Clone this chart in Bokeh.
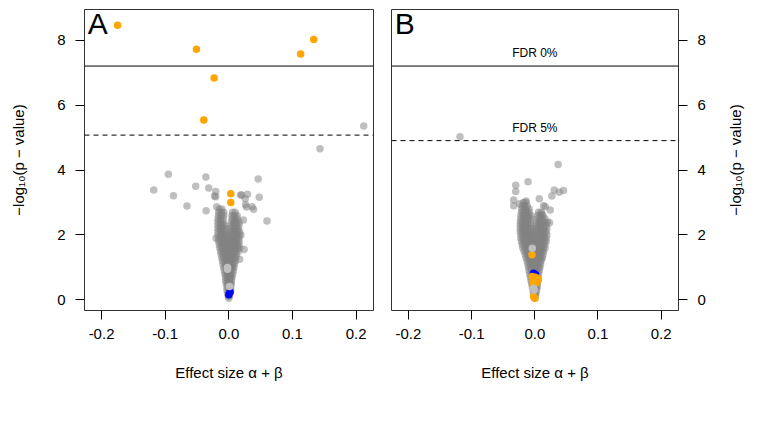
import math
from bokeh.plotting import figure
from bokeh.layouts import row
from bokeh.models import Range1d, Span, Label, FixedTicker, CustomJSTickFormatter
from bokeh.embed import file_html
from bokeh.resources import INLINE

FONT = "Liberation Sans"

# ---------------- data ----------------
x_ticks = [-0.2, -0.1, 0.0, 0.1, 0.2]
y_ticks = [0, 2, 4, 6, 8]
fdr0_a = 7.21
fdr5_a = 5.08
fdr0_b = 7.21
fdr5_b = 4.91

# Panel A - dense core of the volcano (rows of -log10 p, effect sizes)
a_core_levels = [0.05, 0.12, 0.2, 0.3, 0.4, 0.5, 0.6, 0.7, 0.8, 0.9, 1.0, 1.1, 1.2, 1.3, 1.4,
                 1.5, 1.6, 1.7, 1.8, 1.9, 2.0, 2.1, 2.2, 2.3, 2.4, 2.5, 2.6, 2.7, 2.8]
a_core_xs = [
    [0.000],
    [-0.001, 0.001],
    [-0.002, 0.000, 0.002],
    [-0.003, 0.000, 0.003],
    [-0.003, -0.001, 0.001, 0.003],
    [-0.004, -0.001, 0.002, 0.004],
    [-0.005, -0.002, 0.001, 0.004],
    [-0.005, -0.002, 0.001, 0.003, 0.005],
    [-0.006, -0.003, 0.000, 0.003, 0.006],
    [-0.007, -0.003, 0.000, 0.003, 0.007],
    [-0.008, -0.004, -0.001, 0.002, 0.005, 0.008],
    [-0.009, -0.005, -0.001, 0.003, 0.006, 0.009],
    [-0.010, -0.006, -0.002, 0.002, 0.006, 0.010],
    [-0.011, -0.007, -0.003, 0.001, 0.005, 0.009, 0.011],
    [-0.012, -0.008, -0.004, 0.000, 0.004, 0.008, 0.012],
    [-0.013, -0.009, -0.005, -0.001, 0.003, 0.007, 0.011, 0.015],
    [-0.014, -0.010, -0.006, -0.002, 0.002, 0.006, 0.010, 0.014, 0.017],
    [-0.015, -0.011, -0.007, -0.003, 0.001, 0.005, 0.009, 0.013, 0.016],
    [-0.016, -0.012, -0.008, -0.004, 0.000, 0.004, 0.008, 0.012, 0.016],
    [-0.016, -0.012, -0.008, -0.004, 0.001, 0.005, 0.009, 0.013, 0.016],
    [-0.017, -0.013, -0.009, -0.005, -0.001, 0.004, 0.008, 0.012, 0.016],
    [-0.017, -0.013, -0.009, -0.005, 0.002, 0.006, 0.010, 0.014, 0.017],
    [-0.017, -0.013, -0.009, -0.005, 0.003, 0.007, 0.011, 0.015],
    [-0.017, -0.013, -0.009, -0.006, 0.004, 0.008, 0.012, 0.016],
    [-0.017, -0.013, -0.009, 0.004, 0.008, 0.012, 0.016],
    [-0.017, -0.013, -0.009, 0.005, 0.009, 0.013],
    [-0.016, -0.012, -0.008, 0.005, 0.009, 0.013],
    [-0.016, -0.012, -0.008, 0.006, 0.010],
    [-0.015, -0.011],
]
# Panel A - scattered grey points
a_grey_x = [0.2121, 0.1433, -0.095, -0.118, -0.087, -0.052, -0.036, -0.0315, -0.0205, -0.0205,
            -0.0657, -0.0357, 0.0462, 0.0478, 0.0294, 0.020, 0.0257, 0.0279, 0.0389, 0.0600,
            -0.0225, 0.0184, 0.0263, 0.0368, -0.019, 0.0227, 0.024, 0.017, -0.020, 0.019]
a_grey_y = [5.36, 4.66, 3.87, 3.39, 3.21, 3.50, 3.79, 3.45, 3.34, 3.18,
            2.89, 2.75, 3.73, 3.16, 3.26, 3.23, 3.12, 2.86, 2.79, 2.43,
            3.20, 3.23, 2.93, 2.87, 2.87, 2.46, 1.55, 1.25, 1.90, 2.00]
a_light_x = [-0.002, -0.002, 0.001]
a_light_y = [1.00, 0.94, 0.41]
a_blue_x = [0.000, 0.002]
a_blue_y = [0.16, 0.24]
a_orange_x = [-0.1748, -0.0509, 0.1129, 0.1334, -0.0231, -0.0394, 0.0031, 0.0031]
a_orange_y = [8.47, 7.73, 7.58, 8.03, 6.84, 5.545, 3.27, 3.00]

# Panel B - dense core
b_core_levels = [0.05, 0.12, 0.2, 0.3, 0.4, 0.5, 0.6, 0.7, 0.8, 0.9, 1.0, 1.1, 1.2, 1.3, 1.4,
                 1.5, 1.6, 1.7, 1.8, 1.9, 2.0, 2.1, 2.2, 2.3, 2.4, 2.5, 2.6, 2.7, 2.8, 2.9, 3.0]
b_core_xs = [
    [0.000],
    [-0.001, 0.001],
    [-0.002, 0.000, 0.002],
    [-0.003, 0.000, 0.003],
    [-0.004, -0.001, 0.002, 0.004],
    [-0.005, -0.002, 0.001, 0.004],
    [-0.006, -0.003, 0.000, 0.003, 0.005],
    [-0.007, -0.004, -0.001, 0.002, 0.005],
    [-0.008, -0.004, -0.001, 0.003, 0.006],
    [-0.009, -0.005, -0.001, 0.003, 0.007],
    [-0.010, -0.006, -0.002, 0.002, 0.006, 0.008],
    [-0.011, -0.007, -0.003, 0.001, 0.005, 0.009],
    [-0.012, -0.008, -0.004, 0.000, 0.004, 0.008, 0.010],
    [-0.014, -0.010, -0.006, -0.002, 0.002, 0.006, 0.010, 0.012],
    [-0.015, -0.011, -0.007, -0.003, 0.001, 0.005, 0.009, 0.013],
    [-0.017, -0.013, -0.009, -0.005, -0.001, 0.003, 0.007, 0.011, 0.014],
    [-0.019, -0.015, -0.011, -0.007, -0.003, 0.001, 0.005, 0.009, 0.013, 0.016],
    [-0.020, -0.016, -0.012, -0.008, -0.004, 0.000, 0.004, 0.008, 0.012, 0.016],
    [-0.021, -0.017, -0.013, -0.009, -0.005, -0.001, 0.003, 0.007, 0.011, 0.015, 0.018],
    [-0.022, -0.018, -0.014, -0.010, -0.006, -0.002, 0.002, 0.006, 0.010, 0.014, 0.018],
    [-0.022, -0.018, -0.014, -0.010, -0.006, -0.002, 0.003, 0.007, 0.011, 0.015, 0.019],
    [-0.023, -0.019, -0.015, -0.011, -0.007, -0.003, 0.002, 0.006, 0.010, 0.014, 0.018],
    [-0.023, -0.019, -0.015, -0.011, -0.007, -0.003, 0.003, 0.007, 0.011, 0.015, 0.019],
    [-0.023, -0.019, -0.015, -0.011, -0.007, 0.002, 0.006, 0.010, 0.014, 0.018],
    [-0.023, -0.019, -0.015, -0.011, -0.007, 0.003, 0.007, 0.011, 0.015, 0.020],
    [-0.022, -0.018, -0.014, -0.010, -0.006, 0.004, 0.008, 0.012, 0.016],
    [-0.022, -0.018, -0.014, -0.010, -0.006, 0.005, 0.009, 0.013],
    [-0.021, -0.017, -0.013, -0.009, 0.006, 0.010],
    [-0.021, -0.017, -0.013, -0.009],
    [-0.020, -0.016, -0.012],
    [-0.018, -0.014],
]
b_grey_x = [-0.1184, 0.037, -0.0302, -0.0302, -0.0107, 0.0307, 0.0454, 0.0386, 0.027, 0.0071,
            -0.0334, -0.0139, -0.024, -0.0334, 0.0139, 0.0244, 0.0165, 0.0113, 0.0233]
b_grey_y = [5.03, 4.17, 3.53, 3.34, 3.64, 3.39, 3.37, 3.32, 3.20, 3.12,
            3.08, 3.05, 2.96, 2.90, 2.90, 2.77, 2.87, 2.65, 2.38]
b_light_x = [-0.004, -0.002, -0.001]
b_light_y = [1.59, 0.36, 0.30]
b_blue_x = [-0.002, 0.001]
b_blue_y = [0.82, 0.78]
b_orange_x = [-0.0044, -0.004, 0.001, 0.005, -0.003, 0.002, 0.005, -0.002, -0.002, 0.000]
b_orange_y = [1.39, 0.72, 0.70, 0.66, 0.58, 0.52, 0.60, 0.48, 0.10, 0.05]

X_RANGE = (-0.2268, 0.2274)
Y_RANGE = (-0.329, 8.954)
GREY = "#808080"
LIGHT = "#bfbfbf"
ORANGE = "#FFA500"
BLUE = "#0000FF"
PT = 7.5
Y_TITLE = "\u2212log\u2081\u2080(p \u2212 value)"


def flatten(levels, xs):
    fx, fy = [], []
    for yv, row_x in zip(levels, xs):
        for xv in row_x:
            fx.append(xv)
            fy.append(yv)
    return fx, fy


def style_axis(ax):
    ax.axis_line_color = None
    ax.major_tick_line_color = "black"
    ax.major_tick_out = 9
    ax.major_tick_in = 0
    ax.minor_tick_line_color = None
    ax.major_label_text_font = FONT
    ax.major_label_text_font_size = "15px"
    ax.major_label_text_color = "black"
    ax.axis_label_text_font = FONT
    ax.axis_label_text_font_size = "15px"
    ax.axis_label_text_font_style = "normal"
    ax.axis_label_text_color = "black"


def make_panel(side, frame_w, bl, br, core_levels, core_xs, gx, gy, lx, ly, bx, by, ox, oy,
               fdr0, fdr5, letter, fdr_text):
    p = figure(frame_width=frame_w, frame_height=301, output_backend="svg",
               toolbar_location=None, x_range=Range1d(*X_RANGE), y_range=Range1d(*Y_RANGE),
               y_axis_location=side, min_border_left=bl, min_border_right=br,
               min_border_top=9, min_border_bottom=100)
    p.xgrid.visible = False
    p.ygrid.visible = False
    p.outline_line_color = "#333333"
    p.outline_line_width = 1
    p.background_fill_color = "white"
    p.border_fill_color = "white"

    for ax in p.xaxis:
        style_axis(ax)
        ax.ticker = FixedTicker(ticks=x_ticks)
        ax.formatter = CustomJSTickFormatter(code="return tick.toFixed(1);")
        ax.major_label_standoff = 9
        ax.axis_label = "Effect size α + β"
        ax.axis_label_standoff = 22
    for ax in p.yaxis:
        style_axis(ax)
        ax.ticker = FixedTicker(ticks=y_ticks)
        ax.major_label_standoff = 10
        if side == "left":
            ax.axis_label = Y_TITLE
            ax.axis_label_standoff = 27

    cx, cy = flatten(core_levels, core_xs)
    p.scatter(cx, cy, size=PT, fill_color=GREY, fill_alpha=0.5, line_color=None)
    p.scatter(gx, gy, size=PT, fill_color=GREY, fill_alpha=0.5, line_color=None)
    p.scatter(bx, by, size=PT, fill_color=BLUE, line_color=None)
    p.scatter(ox, oy, size=PT, fill_color=ORANGE, line_color=None)
    p.scatter(lx, ly, size=PT, fill_color=LIGHT, line_color=None)

    p.add_layout(Span(location=fdr0, dimension="width", line_color="black", line_width=1))
    p.add_layout(Span(location=fdr5, dimension="width", line_color="black", line_width=1,
                      line_dash="5 4"))

    p.add_layout(Label(x=-0.2215, y=9.03, text=letter, text_font=FONT, text_font_size="30px",
                       text_baseline="top", text_align="left", text_color="black"))
    if fdr_text:
        p.add_layout(Label(x=0.0, y=7.6, text="FDR 0%", text_font=FONT, text_font_size="12px",
                           text_align="center", text_baseline="middle", text_color="black"))
        p.add_layout(Label(x=0.0, y=5.31, text="FDR 5%", text_font=FONT, text_font_size="12px",
                           text_align="center", text_baseline="middle", text_color="black"))
    return p


pa = make_panel("left", 289, 84, 9, a_core_levels, a_core_xs, a_grey_x, a_grey_y,
                a_light_x, a_light_y, a_blue_x, a_blue_y, a_orange_x, a_orange_y,
                fdr0_a, fdr5_a, "A", False)
pb = make_panel("right", 287, 9, 45, b_core_levels, b_core_xs, b_grey_x, b_grey_y,
                b_light_x, b_light_y, b_blue_x, b_blue_y, b_orange_x, b_orange_y,
                fdr0_b, fdr5_b, "B", True)

# narrow strip holding the right-hand axis title (reads bottom to top)
pt = figure(frame_width=24, frame_height=301, output_backend="svg", toolbar_location=None,
            x_range=Range1d(0, 1), y_range=Range1d(0, 1),
            x_axis_location=None, y_axis_location=None,
            min_border_left=0, min_border_right=0, min_border_top=9, min_border_bottom=100)
pt.xgrid.visible = False
pt.ygrid.visible = False
pt.outline_line_color = None
pt.background_fill_color = "white"
pt.border_fill_color = "white"
pt.add_layout(Label(x=0.5, y=0.5, text=Y_TITLE, angle=math.pi / 2,
                    text_font=FONT, text_font_size="15px", text_color="black",
                    text_align="center", text_baseline="middle"))

layout = row(pa, pb, pt)
open("out.html", "w").write(file_html(layout, INLINE))
